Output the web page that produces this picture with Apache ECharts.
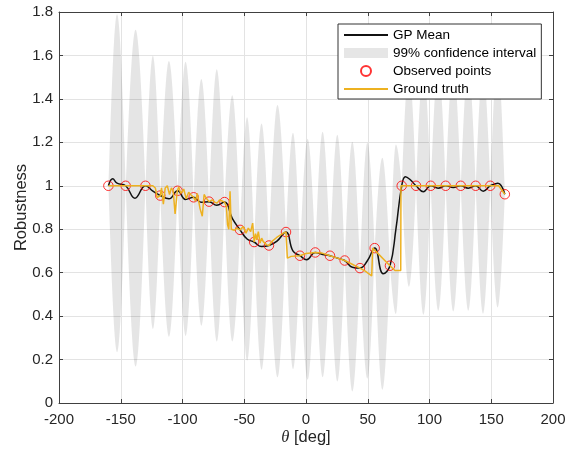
<!DOCTYPE html>
<html><head><meta charset="utf-8">
<script src="https://cdn.jsdelivr.net/npm/echarts@6/dist/echarts.min.js"></script>
<style>html,body{margin:0;padding:0;background:#fff}#c{width:570px;height:454px}</style>
</head><body><div id="c"></div>
<script>
// Observed points
const obsX = [-160, -146, -130, -118, -104, -91, -78.5, -66, -53.4, -42, -30, -16.2, -4.9, 7.5, 19.4, 31.3, 43.7, 55.6, 68, 77.5, 89.1, 101, 113.1, 125.3, 137.4, 149.2, 161];
const obsY = [1.0, 1.0, 1.0, 0.955, 0.977, 0.947, 0.927, 0.925, 0.797, 0.741, 0.725, 0.787, 0.678, 0.693, 0.678, 0.656, 0.621, 0.713, 0.632, 1.0, 1.0, 1.0, 1.0, 1.0, 1.0, 1.0, 0.961];
// Confidence band: mean at the centre of each gap and half width there
const lobeCenter = [1.012, 0.943, 0.97, 0.94, 0.94, 0.924, 0.91, 0.85, 0.755, 0.72, 0.745, 0.70, 0.662, 0.684, 0.667, 0.628, 0.655, 0.595, 0.80, 1.035, 0.973, 0.989, 0.992, 0.989, 0.975, 1.01];
const lobeHalfWidth = [0.778, 0.775, 0.629, 0.635, 0.631, 0.568, 0.627, 0.567, 0.56, 0.567, 0.627, 0.544, 0.555, 0.565, 0.568, 0.575, 0.543, 0.534, 0.39, 0.50, 0.567, 0.564, 0.571, 0.564, 0.564, 0.57];
// GP mean
const gpX = [-160, -156.5, -153, -146, -138.5, -130, -124, -118, -111, -104, -97.5, -91, -85, -78.5, -72.3, -66, -59.7, -53.4, -47.7, -42, -36, -30, -23.5, -16.2, -10.6, -4.9, 0.5, 7.5, 13.5, 19.4, 25.4, 31.3, 37.5, 43.7, 49.7, 55.6, 62.5, 68, 72.8, 77.5, 80.5, 84, 89.1, 95, 101, 107, 113.1, 119.2, 125.3, 131.4, 137.4, 143.5, 149.2, 155.3, 161];
const gpY = [1.0, 1.032, 1.012, 1.0, 0.943, 1.0, 0.975, 0.955, 0.94, 0.977, 0.937, 0.947, 0.924, 0.927, 0.91, 0.925, 0.85, 0.797, 0.755, 0.741, 0.72, 0.725, 0.745, 0.787, 0.70, 0.678, 0.66, 0.693, 0.684, 0.678, 0.667, 0.656, 0.625, 0.621, 0.655, 0.713, 0.595, 0.632, 0.80, 1.0, 1.042, 1.03, 1.0, 0.973, 1.0, 0.989, 1.0, 0.992, 1.0, 0.989, 1.0, 0.975, 1.0, 1.012, 0.961];
// Ground truth
const gtX = [-160, -124, -122, -120.5, -118, -117, -115.5, -114, -112.3, -110.5, -109, -107.5, -106, -104.2, -103, -101.5, -100, -99, -97, -95, -93.5, -91, -89.5, -88, -86.5, -85.8, -84, -82.5, -81, -78.5, -76, -74, -72, -70, -68, -66, -64.5, -63.5, -62.5, -61.5, -60.5, -58, -56, -53.4, -50.8, -48.6, -46.7, -44.8, -43.2, -42, -40.8, -39.9, -38.6, -37.2, -35.9, -34.6, -31.8, -30, -27.8, -23.7, -18.4, -16.2, -15.1, -12, -4.9, 0, 7.5, 13, 19.4, 25, 31.3, 37, 43.7, 48, 53.2, 54, 55.6, 68, 72, 76.7, 76.9, 77.5, 156, 161];
const gtY = [1.0, 1.0, 0.99, 0.945, 0.955, 0.99, 0.915, 0.99, 1.0, 0.96, 0.99, 0.975, 0.87, 0.977, 0.995, 0.965, 0.975, 0.985, 0.94, 0.97, 0.96, 0.947, 0.93, 0.965, 0.97, 0.895, 0.86, 0.96, 0.945, 0.927, 0.935, 0.925, 0.92, 0.935, 0.93, 0.925, 0.905, 0.82, 0.80, 0.975, 0.80, 0.795, 0.805, 0.797, 0.812, 0.782, 0.805, 0.789, 0.828, 0.741, 0.78, 0.751, 0.789, 0.736, 0.759, 0.743, 0.728, 0.725, 0.743, 0.762, 0.782, 0.787, 0.667, 0.675, 0.678, 0.688, 0.693, 0.69, 0.678, 0.668, 0.656, 0.64, 0.621, 0.607, 0.585, 0.713, 0.713, 0.632, 0.61, 0.61, 1.0, 1.0, 1.0, 0.961];

const xTicks = {min: -200, max: 200, interval: 50};
const yTicks = {min: 0, max: 1.8, interval: 0.2};

const FONT = 'Liberation Sans, Arial, Helvetica, sans-serif';
const TXT = '#262626';
const AX = '#404040';

const lobes = lobeCenter.map((c, i) => [obsX[i], obsY[i], obsX[i + 1], obsY[i + 1], c, lobeHalfWidth[i]]);

function renderLobe(params, api) {
  const x0 = api.value(0), y0 = api.value(1), x1 = api.value(2), y1 = api.value(3);
  const c = api.value(4), h = api.value(5);
  const xm = (x0 + x1) / 2;
  const a = api.coord([x0, y0]);
  const b = api.coord([x1, y1]);
  const u = api.coord([xm, c + h]);
  const l = api.coord([xm, c - h]);
  const k = 0.52;
  const f = (n) => n.toFixed(2);
  function half(p, q, peakAtEnd) {
    if (peakAtEnd) {
      return 'C' + f(p[0] + (q[0] - p[0]) / 3) + ',' + f(p[1] + (q[1] - p[1]) * k) + ' ' +
        f(p[0] + 2 * (q[0] - p[0]) / 3) + ',' + f(q[1]) + ' ' + f(q[0]) + ',' + f(q[1]);
    }
    return 'C' + f(p[0] + (q[0] - p[0]) / 3) + ',' + f(p[1]) + ' ' +
      f(p[0] + 2 * (q[0] - p[0]) / 3) + ',' + f(q[1] + (p[1] - q[1]) * k) + ' ' + f(q[0]) + ',' + f(q[1]);
  }
  const d = 'M' + f(a[0]) + ',' + f(a[1]) + half(a, u, true) + half(u, b, false) +
    half(b, l, true) + half(l, a, false) + 'Z';
  return {type: 'path', shape: {pathData: d}, style: {fill: 'rgba(0,0,0,0.1)', stroke: null}};
}

const axisBase = {
  axisLine: {show: true, onZero: false, lineStyle: {color: AX, width: 1}},
  axisTick: {show: true, inside: true, length: 4, lineStyle: {color: AX}}
};

const chart = echarts.init(document.getElementById('c'), null, {renderer: 'canvas'});
chart.setOption({
  animation: false,
  backgroundColor: '#fff',
  textStyle: {fontFamily: FONT},
  grid: {left: 59, top: 12, right: 17, bottom: 51, containLabel: false},
  legend: {
    orient: 'vertical', left: 338, top: 24,
    padding: [4, 5, 3, 5], itemGap: 4, itemWidth: 44, itemHeight: 10,
    borderColor: '#333', borderWidth: 1, backgroundColor: '#fff',
    textStyle: {fontSize: 13.5, color: '#000', fontFamily: FONT},
    data: [
      {name: 'GP Mean', itemStyle: {opacity: 0}},
      {name: '99% confidence interval', icon: 'rect', itemStyle: {color: '#e6e6e6'}},
      {name: 'Observed points'},
      {name: 'Ground truth', itemStyle: {opacity: 0}}
    ]
  },
  xAxis: [Object.assign({
    type: 'value', min: xTicks.min, max: xTicks.max, interval: xTicks.interval,
    name: '{it|θ} [deg]', nameLocation: 'middle', nameGap: 26, nameMoveOverlap: false,
    nameTextStyle: {fontSize: 16.5, color: TXT, fontFamily: FONT,
      rich: {it: {fontStyle: 'italic', fontSize: 16.5, color: TXT, fontFamily: 'Liberation Serif, serif'}}},
    axisLabel: {fontSize: 15, color: TXT, margin: 9, fontFamily: FONT},
    splitLine: {show: true, lineStyle: {color: '#e3e3e3', width: 1}}
  }, axisBase), Object.assign({
    type: 'value', position: 'top', min: xTicks.min, max: xTicks.max, interval: xTicks.interval,
    axisLabel: {show: false}, splitLine: {show: false}
  }, axisBase)],
  yAxis: [Object.assign({
    type: 'value', min: yTicks.min, max: yTicks.max, interval: yTicks.interval,
    name: 'Robustness', nameLocation: 'middle', nameGap: 29, nameRotate: 90, nameMoveOverlap: false,
    nameTextStyle: {fontSize: 16.5, color: TXT, fontFamily: FONT},
    axisLabel: {fontSize: 15, color: TXT, margin: 6, fontFamily: FONT},
    splitLine: {show: true, lineStyle: {color: '#e3e3e3', width: 1}}
  }, axisBase), Object.assign({
    type: 'value', position: 'right', min: yTicks.min, max: yTicks.max, interval: yTicks.interval,
    axisLabel: {show: false}, splitLine: {show: false}
  }, axisBase)],
  series: [
    {
      name: '99% confidence interval', type: 'custom', z: 1,
      renderItem: renderLobe, data: lobes,
      encode: {x: [0, 2], y: [1, 3]},
      itemStyle: {color: '#e6e6e6'}, clip: true, silent: true
    },
    {
      name: 'GP Mean', type: 'line', z: 2, symbol: 'none', showSymbol: false,
      smooth: 0.45, data: gpX.map((x, i) => [x, gpY[i]]),
      lineStyle: {color: '#111', width: 1.5}, itemStyle: {color: '#111'}
    },
    {
      name: 'Observed points', type: 'scatter', z: 3, symbol: 'circle', symbolSize: 9.5,
      data: obsX.map((x, i) => [x, obsY[i]]),
      itemStyle: {color: 'rgba(255,255,255,0)', borderColor: '#ff0000', borderWidth: 1}
    },
    {
      name: 'Ground truth', type: 'line', z: 4, symbol: 'none', showSymbol: false,
      data: gtX.map((x, i) => [x, gtY[i]]),
      lineStyle: {color: '#EDB120', width: 1.5}, itemStyle: {color: '#EDB120'}
    }
  ]
});
</script></body></html>
